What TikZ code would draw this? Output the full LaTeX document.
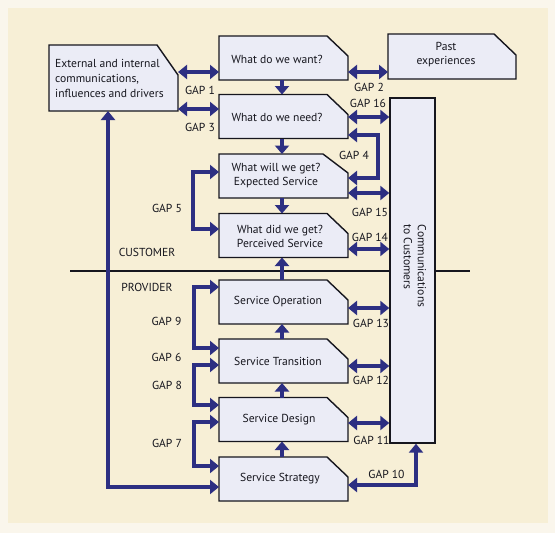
\documentclass[tikz,border=0pt]{standalone}
\usepackage{fontspec}
\setmainfont{PT Sans}
\usetikzlibrary{arrows.meta}
\pgfdeclarelayer{back}
\pgfdeclarelayer{mid}
\pgfsetlayers{back,mid,main}
\definecolor{navy}{HTML}{2D2F82}
\definecolor{cream}{HTML}{F7EFD6}
\definecolor{paper}{HTML}{FAF6EC}
\definecolor{boxfill}{HTML}{EBECF6}
\definecolor{ink}{HTML}{16161E}
\newcommand\chamfbox[3]{%
  \draw[outline] (#1.south west) -- (#1.north west) -- ([xshift=-#2pt]#1.north east)
    -- ([yshift=-#3pt]#1.north east) -- (#1.south east) -- cycle;}
\begin{document}
\begin{tikzpicture}[x=1pt,y=-1pt,
  font=\fontsize{11.6}{14}\selectfont,
  gbox/.style={minimum width=129pt, minimum height=44pt, inner sep=0pt, outer sep=0pt},
  btext/.style={align=center, inner sep=0pt, text=ink},
  glabel/.style={inner sep=0pt, text=ink},
  outline/.style={draw=ink, line width=1.4pt, fill=boxfill, line join=miter},
  flow/.style={draw=navy, line width=4.8pt, -{Triangle[width=14pt,length=9pt]}},
  dflow/.style={draw=navy, line width=4.8pt, {Triangle[width=14pt,length=9pt]}-{Triangle[width=14pt,length=9pt]}},
  step arrow/.style={draw=navy, line width=4.4pt, -{Triangle[width=14pt,length=8.5pt]}}
]
\useasboundingbox (0,0) rectangle (555,533);
\begin{pgfonlayer}{back}
  \fill[paper] (0,0) rectangle (555,533);
  \fill[cream] (8,8) rectangle (548,523);
\end{pgfonlayer}

% divider line
\coordinate (lineL) at (70,271);
\coordinate (lineR) at (470,271);
\draw[ink, line width=1.4pt] (lineL) -- (lineR);

% boxes
\node[gbox, minimum height=66pt] (ext) at (113.5,78) {};
\node[gbox] (want)  at (283.5,58) {};
\node[gbox] (need)  at (283.5,116.5) {};
\node[gbox] (will)  at (283.5,176) {};
\node[gbox] (did)   at (283.5,235.5) {};
\node[gbox] (op)    at (283.5,302) {};
\node[gbox] (trans) at (283.5,361) {};
\node[gbox] (design) at (283.5,419.5) {};
\node[gbox] (strat) at (283.5,479) {};
\node[gbox, minimum width=128pt, minimum height=45pt] (past) at (452,56.5) {};
\node[draw=ink, line width=1.4pt, fill=boxfill, minimum width=45pt, minimum height=345pt, inner sep=0pt] (comm) at (412.5,270.5) {};

\begin{pgfonlayer}{mid}
  \chamfbox{ext}{21}{30}
  \chamfbox{want}{21}{20}
  \chamfbox{need}{21}{20}
  \chamfbox{will}{25}{19}
  \chamfbox{did}{21}{20}
  \chamfbox{op}{21}{20}
  \chamfbox{trans}{21}{20}
  \chamfbox{design}{21}{20}
  \chamfbox{strat}{21}{20}
  \chamfbox{past}{22}{21}
\end{pgfonlayer}

% box texts
\node[btext, align=left, anchor=west, font=\fontsize{11.6}{15}\selectfont] (extT) at (55,78) {External and internal\\communications,\\influences and drivers};
\node[btext] (wantT) at (277,59) {What do we want?};
\node[btext] (needT) at (277,117) {What do we need?};
\node[btext] (willT) at (276,176) {What will we get?\\Expected Service};
\node[btext] (didT) at (280,236) {What did we get?\\Perceived Service};
\node[btext] (opT) at (278,302) {Service Operation};
\node[btext] (transT) at (278,361) {Service Transition};
\node[btext] (designT) at (279,420) {Service Design};
\node[btext] (stratT) at (280,479) {Service Strategy};
\node[btext] (pastT) at (446,55) {Past\\experiences};
\node[btext, rotate=-90, align=left] (commT) at (415,266) {Communications\\to Customers};

% vertical step arrows between boxes
\draw[step arrow] (want.south -| 282,0) -- (need.north -| 282,0);
\draw[step arrow] (need.south -| 282,0) -- (will.north -| 282,0);
\draw[step arrow] (will.south -| 282,0) -- (did.north -| 282,0);
\draw[step arrow] (op.north -| 282,0) -- (did.south -| 282,0);
\draw[step arrow] (trans.north -| 282,0) -- (op.south -| 282,0);
\draw[step arrow] (design.north -| 282,0) -- (trans.south -| 282,0);
\draw[step arrow] (strat.north -| 282,0) -- (design.south -| 282,0);

% gap arrows
\draw[dflow] (ext.east |- 0,72) -- (want.west |- 0,72);
\draw[dflow] (ext.east |- 0,109) -- (want.west |- 0,109);
\draw[dflow] (want.east |- 0,72) -- (past.west |- 0,72);
\draw[dflow] (need.east |- 0,117) -- (comm.west |- 0,117);
\draw[dflow] (need.east |- 0,135) -- (378,135) -- (378,178) -- (will.east |- 0,178);
\draw[dflow] (will.east |- 0,193) -- (comm.west |- 0,193);
\draw[dflow] (did.east |- 0,249) -- (comm.west |- 0,249);
\draw[dflow] (op.east |- 0,308) -- (comm.west |- 0,308);
\draw[dflow] (trans.east |- 0,366) -- (comm.west |- 0,366);
\draw[dflow] (design.east |- 0,423) -- (comm.west |- 0,423);
\draw[dflow] (strat.east |- 0,485) -- (416,485) -- (comm.south -| 416,0);
\draw[dflow] (will.west |- 0,172) -- (193,172) -- (193,229) -- (did.west |- 0,229);
\draw[dflow] (op.west |- 0,287) -- (194,287) -- (194,348) -- (trans.west |- 0,348);
\draw[dflow] (trans.west |- 0,365) -- (194,365) -- (194,405) -- (design.west |- 0,405);
\draw[dflow] (design.west |- 0,422) -- (194,422) -- (194,466) -- (strat.west |- 0,466);
\draw[dflow] (ext.south -| 108,0) -- (108,487) -- (strat.west |- 0,487);

% labels
\node[glabel] (g1) at (200,90) {GAP 1};
\node[glabel] (g3) at (200,127) {GAP 3};
\node[glabel] (g2) at (369,87) {GAP 2};
\node[glabel] (g16) at (368,103) {GAP 16};
\node[glabel] (g4) at (354,155) {GAP 4};
\node[glabel] (g15) at (370,212) {GAP 15};
\node[glabel] (g14) at (370,237) {GAP 14};
\node[glabel] (g5) at (167,208) {GAP 5};
\node[glabel] (cust) at (147,252) {CUSTOMER};
\node[glabel] (prov) at (147,287) {PROVIDER};
\node[glabel] (g9) at (166.5,321) {GAP 9};
\node[glabel] (g6) at (166.5,357) {GAP 6};
\node[glabel] (g8) at (167,385) {GAP 8};
\node[glabel] (g7) at (167,443) {GAP 7};
\node[glabel] (g13) at (371,323) {GAP 13};
\node[glabel] (g12) at (371,380) {GAP 12};
\node[glabel] (g11) at (371.5,440) {GAP 11};
\node[glabel] (g10) at (386.5,474) {GAP 10};
\end{tikzpicture}
\end{document}
